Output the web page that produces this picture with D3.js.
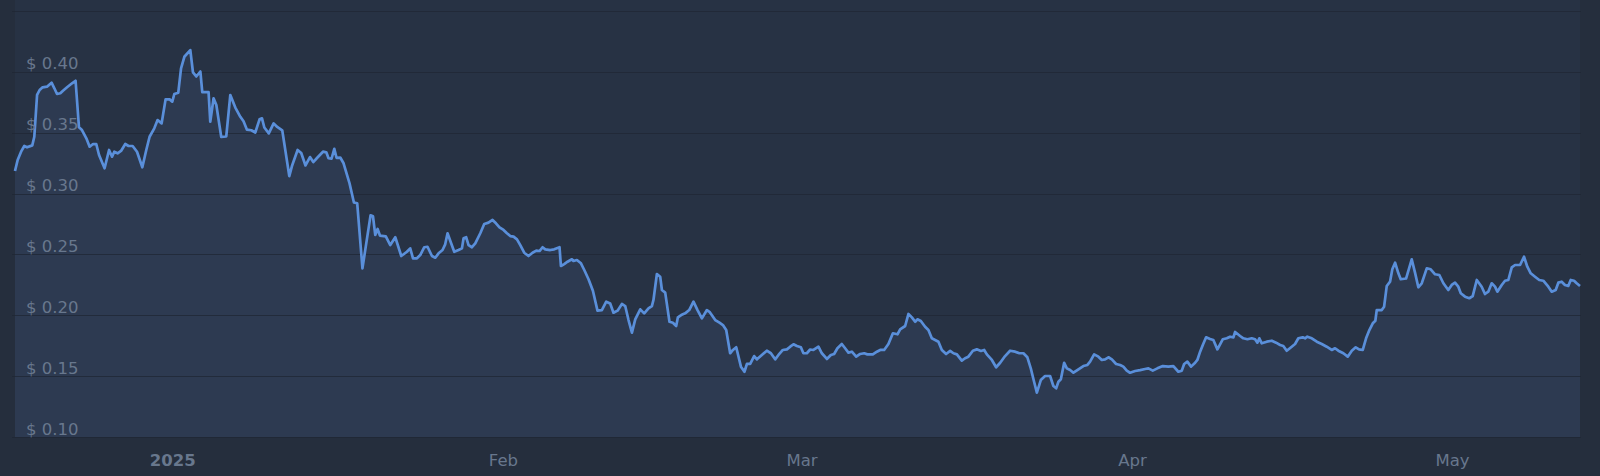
<!DOCTYPE html>
<html>
<head>
<meta charset="utf-8">
<script src="https://cdn.jsdelivr.net/npm/d3@7/dist/d3.min.js"></script>
<style>
  html, body { margin: 0; padding: 0; background: #252e3d; }
  svg { display: block; }
</style>
</head>
<body>
<svg id="chart" width="1600" height="476"></svg>
<script>
// days since 1 Jan 2025 (UTC)
const days = [
-14.75,-14.50,-14.18,-13.88,-13.62,-13.13,-12.94,-12.68,-12.44,-12.16,-11.75,-11.32,-11.06,-10.81,-10.50,-10.25,-9.87,-9.40,-9.07,-8.75,
-8.47,-8.06,-7.75,-7.43,-7.13,-6.87,-6.35,-5.93,-5.65,-5.44,-5.13,-4.81,-4.41,-4.10,-3.72,-3.31,-2.81,-2.44,-2.13,-1.69,
-1.38,-1.00,-0.63,-0.25,0.00,0.19,0.56,0.82,1.13,1.69,1.94,2.25,2.63,2.81,3.40,3.56,3.87,4.13,4.59,5.06,
5.44,5.91,6.38,6.68,7.00,7.41,7.78,8.18,8.41,8.63,9.05,9.50,9.84,10.31,10.97,11.22,11.75,12.09,12.49,12.91,
13.22,13.59,14.13,14.44,14.65,14.93,15.19,15.40,15.75,16.06,16.62,17.03,17.34,17.83,18.59,18.82,19.03,19.25,19.47,20.02,
20.44,20.91,21.47,22.00,22.31,22.57,22.94,23.25,23.63,23.93,24.35,24.66,24.97,25.34,25.59,25.81,26.13,26.44,26.84,27.16,
27.31,27.56,27.78,28.10,28.41,28.88,29.25,29.65,30.03,30.35,30.68,31.06,31.38,31.69,32.00,32.32,32.63,33.00,33.40,33.78,
34.13,34.43,34.72,34.97,35.44,35.81,36.31,36.44,36.75,37.06,37.47,37.62,37.94,38.32,38.63,39.03,39.44,39.87,40.28,40.69,
41.06,41.37,41.75,42.16,42.47,42.78,43.10,43.41,43.88,44.25,44.65,44.97,45.12,45.44,45.75,45.91,46.22,46.62,46.94,47.25,
47.41,47.72,48.09,48.47,48.87,49.25,49.66,50.13,50.37,50.91,51.31,51.63,51.94,52.31,52.57,52.88,53.32,53.65,53.88,54.19,
54.56,54.82,55.28,55.75,56.13,56.53,56.84,57.25,57.63,57.94,58.25,58.57,58.94,59.18,59.50,59.81,60.12,60.59,60.91,61.38,
61.75,62.06,62.37,62.78,63.09,63.40,63.72,64.13,64.50,64.88,65.18,65.69,66.07,66.38,66.75,67.15,67.57,68.00,68.25,68.72,
69.03,69.35,69.66,69.87,70.19,70.59,70.90,71.22,71.53,71.84,72.16,72.56,72.94,73.25,73.57,74.03,74.34,74.65,75.07,75.44,
75.82,76.13,76.38,76.85,77.25,77.63,78.09,78.56,79.03,79.43,79.81,80.18,80.50,80.81,81.07,81.44,81.84,82.31,82.62,82.88,
83.09,83.32,83.63,83.88,84.19,84.50,84.97,85.43,85.81,86.06,86.44,86.84,87.16,87.47,87.78,88.10,88.50,88.88,89.18,89.50,
89.81,90.28,90.75,91.22,91.53,91.94,92.37,92.88,93.40,93.87,94.34,94.66,94.88,95.18,95.53,95.91,96.12,96.38,96.63,96.94,
97.31,97.62,98.00,98.50,98.88,99.19,99.50,99.66,100.13,100.43,100.81,101.22,101.53,101.75,101.93,102.16,102.63,103.10,103.50,103.88,
104.18,104.50,104.97,105.28,105.59,106.00,106.22,106.43,106.85,107.32,107.78,108.25,108.72,109.03,109.34,109.81,110.22,110.60,110.97,111.28,
111.63,111.94,112.25,112.57,112.81,112.94,113.41,113.63,113.88,114.19,114.40,114.66,114.97,115.19,115.69,116.22,116.53,116.84,117.16,117.63,
118.00,118.41,118.81,119.19,119.65,119.97,120.28,120.59,120.82,121.22,121.62,121.94,122.32,122.78,123.09,123.40,123.72,124.03,124.25,124.66,
124.97,125.28,125.60,125.91,126.38,126.75,127.06,127.38,127.78,128.18,128.56,129.03,129.35,129.72,129.97,130.28,130.59,130.90,131.13,131.44,
131.69,132.00
];
// price in USD
const prices = [
0.3185,0.3276,0.3344,0.3391,0.3380,0.3396,0.3467,0.3810,0.3851,0.3873,0.3878,0.3911,0.3865,0.3818,0.3824,0.3845,0.3873,0.3906,0.3927,0.3544,
0.3522,0.3454,0.3385,0.3407,0.3407,0.3317,0.3208,0.3358,0.3303,0.3344,0.3331,0.3350,0.3407,0.3391,0.3391,0.3344,0.3216,0.3358,0.3467,0.3536,
0.3604,0.3577,0.3774,0.3774,0.3755,0.3818,0.3829,0.4029,0.4124,0.4179,0.3995,0.3962,0.4003,0.3833,0.3833,0.3590,0.3783,0.3728,0.3465,0.3469,
0.3810,0.3707,0.3631,0.3594,0.3525,0.3520,0.3502,0.3610,0.3618,0.3543,0.3495,0.3577,0.3547,0.3520,0.3144,0.3226,0.3358,0.3333,0.3231,0.3300,
0.3259,0.3294,0.3344,0.3339,0.3290,0.3286,0.3368,0.3294,0.3296,0.3249,0.3084,0.2927,0.2920,0.2386,0.2821,0.2813,0.2660,0.2709,0.2655,0.2649,
0.2577,0.2641,0.2487,0.2522,0.2550,0.2468,0.2468,0.2495,0.2559,0.2563,0.2487,0.2473,0.2509,0.2536,0.2583,0.2674,0.2596,0.2522,0.2536,0.2550,
0.2632,0.2641,0.2577,0.2559,0.2591,0.2674,0.2750,0.2761,0.2783,0.2756,0.2723,0.2701,0.2674,0.2651,0.2646,0.2624,0.2577,0.2514,0.2487,0.2514,
0.2531,0.2528,0.2559,0.2542,0.2536,0.2542,0.2559,0.2405,0.2421,0.2440,0.2460,0.2446,0.2454,0.2427,0.2372,0.2296,0.2202,0.2038,0.2043,0.2112,
0.2097,0.2021,0.2038,0.2093,0.2076,0.1961,0.1857,0.1967,0.2049,0.2016,0.2057,0.2076,0.2126,0.2339,0.2317,0.2208,0.2186,0.1947,0.1939,0.1912,
0.1983,0.2002,0.2016,0.2043,0.2112,0.2043,0.1975,0.2043,0.2029,0.1961,0.1939,0.1920,0.1879,0.1688,0.1715,0.1737,0.1578,0.1536,0.1600,0.1600,
0.1665,0.1638,0.1674,0.1709,0.1688,0.1638,0.1674,0.1715,0.1720,0.1742,0.1762,0.1748,0.1737,0.1688,0.1688,0.1719,0.1715,0.1742,0.1688,0.1641,
0.1674,0.1682,0.1729,0.1764,0.1729,0.1693,0.1701,0.1660,0.1682,0.1688,0.1679,0.1679,0.1701,0.1715,0.1715,0.1764,0.1852,0.1844,0.1885,0.1912,
0.2011,0.1983,0.1947,0.1967,0.1953,0.1906,0.1879,0.1811,0.1797,0.1783,0.1715,0.1682,0.1707,0.1688,0.1679,0.1627,0.1647,0.1660,0.1709,0.1720,
0.1707,0.1715,0.1679,0.1633,0.1573,0.1610,0.1665,0.1709,0.1701,0.1688,0.1688,0.1655,0.1564,0.1454,0.1364,0.1468,0.1501,0.1501,0.1419,0.1400,
0.1454,0.1474,0.1610,0.1564,0.1550,0.1528,0.1556,0.1583,0.1592,0.1619,0.1679,0.1660,0.1633,0.1638,0.1655,0.1638,0.1600,0.1592,0.1578,0.1545,
0.1528,0.1542,0.1550,0.1559,0.1564,0.1545,0.1564,0.1583,0.1578,0.1583,0.1536,0.1545,0.1600,0.1619,0.1578,0.1610,0.1633,0.1701,0.1756,0.1819,
0.1805,0.1797,0.1720,0.1803,0.1811,0.1824,0.1819,0.1863,0.1830,0.1811,0.1803,0.1811,0.1803,0.1775,0.1811,0.1770,0.1783,0.1791,0.1775,0.1756,
0.1748,0.1709,0.1742,0.1764,0.1811,0.1819,0.1811,0.1824,0.1811,0.1783,0.1764,0.1742,0.1715,0.1729,0.1709,0.1688,0.1660,0.1709,0.1737,0.1720,
0.1715,0.1811,0.1879,0.1934,0.1955,0.2043,0.2043,0.2070,0.2241,0.2276,0.2378,0.2432,0.2345,0.2296,0.2302,0.2460,0.2350,0.2230,0.2263,0.2386,
0.2378,0.2337,0.2331,0.2263,0.2208,0.2249,0.2268,0.2235,0.2181,0.2153,0.2140,0.2158,0.2290,0.2235,0.2175,0.2194,0.2263,0.2235,0.2194,0.2249,
0.2284,0.2290,0.2394,0.2413,0.2413,0.2481,0.2399,0.2345,0.2317,0.2290,0.2284,0.2235,0.2194,0.2208,0.2268,0.2276,0.2249,0.2241,0.2290,0.2284,
0.2263,0.2241
];
const yTicks = [0.10, 0.15, 0.20, 0.25, 0.30, 0.35, 0.40, 0.45];
const yTickLabels = ["$ 0.10", "$ 0.15", "$ 0.20", "$ 0.25", "$ 0.30", "$ 0.35", "$ 0.40", ""];
const xTickDates = ["2025-01-01", "2025-02-01", "2025-03-01", "2025-04-01", "2025-05-01"];
const xTickLabels = ["2025", "Feb", "Mar", "Apr", "May"];

const DAY = 86400000;
const base = Date.UTC(2025, 0, 1);
const data = days.map((d, i) => ({ t: new Date(base + d * DAY), v: prices[i] }));

const W = 1600, H = 476;
const m = { left: 15, right: 20, top: 11, bottom: 39 };
const svg = d3.select("#chart");

const x = d3.scaleUtc()
  .domain(d3.extent(data, d => d.t))
  .range([m.left, W - m.right]);
const y = d3.scaleLinear()
  .domain([0.10, 0.45])
  .range([H - m.bottom, m.top]);

// page & plot background
svg.append("rect").attr("width", W).attr("height", H).attr("fill", "#252e3d");
svg.append("rect")
  .attr("x", m.left).attr("y", 0)
  .attr("width", W - m.left - m.right).attr("height", H - m.bottom)
  .attr("fill", "#273244");

// area
const area = d3.area()
  .x(d => x(d.t))
  .y0(y(0.10))
  .y1(d => y(d.v));
svg.append("path").datum(data).attr("d", area).attr("fill", "#2d3a51");

// gridlines
const grid = svg.append("g").attr("class", "grid");
grid.selectAll("line").data(yTicks).join("line")
  .attr("x1", 12).attr("x2", W - m.right + 1)
  .attr("y1", d => Math.round(y(d)) + 0.5).attr("y2", d => Math.round(y(d)) + 0.5)
  .attr("stroke", "#1f2734").attr("stroke-width", 1).attr("opacity", 0.75);

// line
const line = d3.line().x(d => x(d.t)).y(d => y(d.v));
svg.append("path").datum(data).attr("d", line)
  .attr("fill", "none").attr("stroke", "#5a8fda")
  .attr("stroke-width", 2.7).attr("stroke-linejoin", "round");

// y labels
const yAxis = d3.axisLeft(y).tickValues(yTicks)
  .tickFormat((d, i) => yTickLabels[i]).tickSize(0).tickPadding(0);
const gy = svg.append("g").attr("transform", `translate(26,0)`).call(yAxis);
gy.select(".domain").remove();
gy.selectAll("text")
  .attr("text-anchor", "start")
  .attr("x", 0)
  .attr("dy", "-3px")
  .style("font-family", "'DejaVu Sans', Verdana, sans-serif")
  .style("font-size", "16.5px")
  .attr("fill", "#68778d");

// x labels
const xAxis = d3.axisBottom(x)
  .tickValues(xTickDates.map(s => new Date(s + "T00:00:00Z")))
  .tickFormat((d, i) => xTickLabels[i]).tickSize(0).tickPadding(0);
const gx = svg.append("g").attr("transform", `translate(0,${H - m.bottom})`).call(xAxis);
gx.select(".domain").remove();
gx.selectAll("text")
  .attr("y", 29).attr("dy", 0)
  .style("font-family", "'DejaVu Sans', Verdana, sans-serif")
  .style("font-size", "16.5px")
  .style("font-weight", (d, i) => i === 0 ? "bold" : "normal")
  .attr("fill", "#68778d");
</script>
</body>
</html>
